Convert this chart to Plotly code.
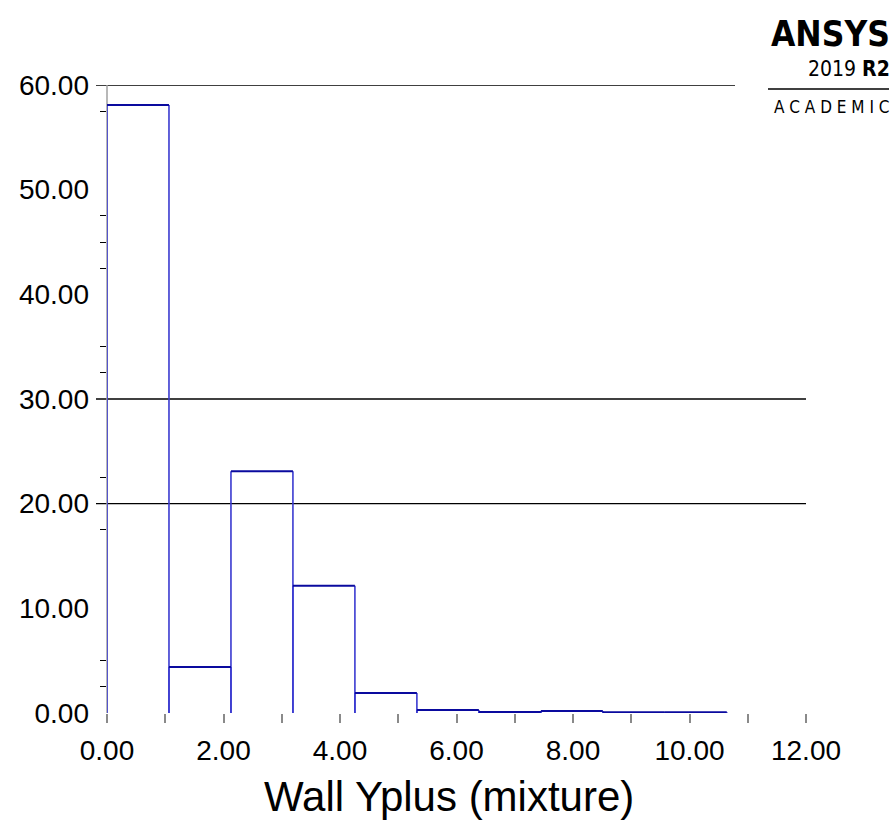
import plotly.graph_objects as go

# ---- data ----
bin_start = 0.0
bin_width = 1.064
counts = [58.1, 4.4, 23.1, 12.15, 1.9, 0.28, 0.1, 0.19, 0.08, 0.08]
x_tick_vals = [0, 2, 4, 6, 8, 10, 12]
x_tick_text = ["0.00", "2.00", "4.00", "6.00", "8.00", "10.00", "12.00"]
y_tick_vals = [0, 10, 20, 30, 40, 50, 60]
y_tick_text = ["0.00", "10.00", "20.00", "30.00", "40.00", "50.00", "60.00"]
y_minor_vals = [2.5, 5, 17.5, 22.5, 32.5, 35, 42.5, 45, 47.5, 57.5]
grid_levels = [60, 30, 20]
x_title = "Wall Yplus (mixture)"

edges = [bin_start + i * bin_width for i in range(len(counts) + 1)]

# vertical sides (no bottom edge) and top edges of each bar
vx, vy, tx, ty = [], [], [], []
for i, c in enumerate(counts):
    l, r = edges[i], edges[i + 1]
    vx += [l, l, None, r, r, None]
    vy += [0, c, None, 0, c, None]
    tx += [l, r, None]
    ty += [c, c, None]

fig = go.Figure()
fig.add_trace(go.Scatter(x=vx, y=vy, mode="lines",
                         line=dict(color="#3a3ad0", width=1.6),
                         hoverinfo="skip", showlegend=False, cliponaxis=False))
fig.add_trace(go.Scatter(x=tx, y=ty, mode="lines",
                         line=dict(color="#0a0a9e", width=2),
                         hoverinfo="skip", showlegend=False, cliponaxis=False))

W, H = 891, 823
ml, mr, mt, mb = 107, 85, 85, 110
pw = W - ml - mr
ph = H - mt - mb

def px2paper_x(px):
    return (px - ml) / pw

def py2paper_y(py):
    return (H - mb - py) / ph

# gridlines
for g in grid_levels:
    x1 = px2paper_x(735) if g == 60 else 1.0
    fig.add_shape(type="line", xref="paper", yref="y",
                  x0=px2paper_x(96), x1=x1, y0=g, y1=g,
                  line=dict(color="black", width=1.3), layer="below")

# y axis line (gray) drawn underneath bars
fig.add_shape(type="line", xref="paper", yref="paper",
              x0=0, x1=0, y0=0, y1=1, line=dict(color="#a0a0a0", width=1.5),
              layer="below")

font_main = "Liberation Sans, Arial, Helvetica, sans-serif"

fig.update_layout(
    width=W, height=H,
    margin=dict(l=ml, r=mr, t=mt, b=mb),
    paper_bgcolor="white", plot_bgcolor="white",
    showlegend=False,
    font=dict(family=font_main, color="black"),
    xaxis=dict(
        range=[0, 12], showgrid=False, zeroline=False, showline=False,
        tickmode="array", tickvals=x_tick_vals, ticktext=x_tick_text,
        ticks="outside", ticklen=9, tickwidth=1.5, tickcolor="#8a8a8a",
        tickfont=dict(size=28, family=font_main, color="black"),
        ticklabelstandoff=3,
        minor=dict(tickmode="array", tickvals=[1, 3, 5, 7, 9, 11],
                   ticks="outside", ticklen=9, tickwidth=1.5, tickcolor="#8a8a8a",
                   showgrid=False),
    ),
    yaxis=dict(
        range=[0, 60], showgrid=False, zeroline=False, showline=False,
        tickmode="array", tickvals=y_tick_vals, ticktext=y_tick_text,
        ticks="", ticklen=0,
        tickfont=dict(size=28, family=font_main, color="black"),
        ticklabelstandoff=17,
        minor=dict(tickmode="array", tickvals=y_minor_vals,
                   ticks="outside", ticklen=6, tickwidth=1.3, tickcolor="black",
                   showgrid=False),
    ),
)

# axis title as annotation (centred like the reference)
fig.add_annotation(xref="paper", yref="paper", x=px2paper_x(449), y=py2paper_y(796),
                   xanchor="center", yanchor="middle", showarrow=False, borderpad=0,
                   text=x_title, font=dict(size=42, family=font_main, color="black"))

# ANSYS logo
logo_font = "DejaVu Sans Condensed, DejaVu Sans, sans-serif"
nb = "\u00a0"
fig.add_annotation(xref="paper", yref="paper", x=px2paper_x(891), y=py2paper_y(34),
                   xanchor="right", yanchor="middle", showarrow=False, borderpad=0,
                   text="<b>ANSYS</b>", font=dict(size=35, family=logo_font, color="black"))
fig.add_annotation(xref="paper", yref="paper", x=px2paper_x(891), y=py2paper_y(69),
                   xanchor="right", yanchor="middle", showarrow=False, borderpad=0,
                   text="2019 <b>R2</b>", font=dict(size=21, family=logo_font, color="black"))
fig.add_shape(type="line", xref="paper", yref="paper",
              x0=px2paper_x(768), x1=px2paper_x(889), y0=py2paper_y(89), y1=py2paper_y(89),
              line=dict(color="black", width=1.5))
fig.add_annotation(xref="paper", yref="paper", x=px2paper_x(890), y=py2paper_y(107),
                   xanchor="right", yanchor="middle", showarrow=False, borderpad=0,
                   text=nb.join(list("ACADEMIC")),
                   font=dict(size=17, family=logo_font, color="black"))

fig.write_html("out.html")
